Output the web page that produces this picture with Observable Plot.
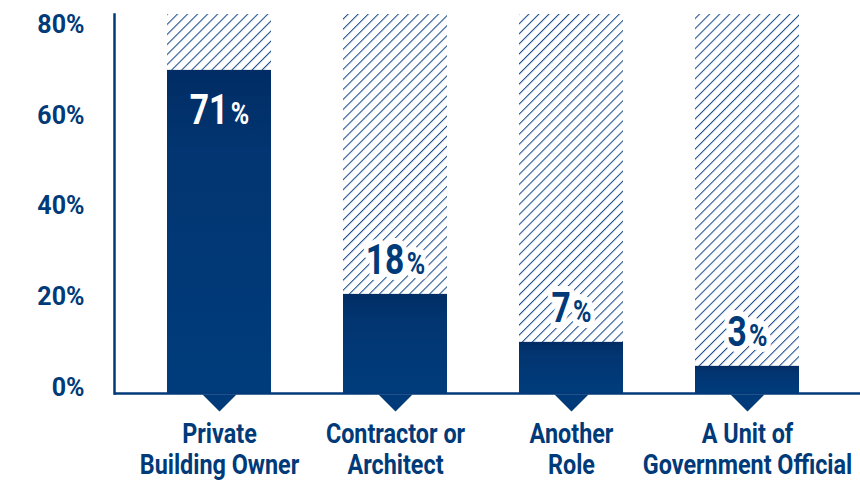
<!DOCTYPE html>
<html><head><meta charset="utf-8">
<script src="https://cdn.jsdelivr.net/npm/d3@7"></script>
<script src="https://cdn.jsdelivr.net/npm/@observablehq/plot@0.6"></script>
<style>body{margin:0;background:#fff;} #chart svg{display:block;}</style>
</head><body><div id="chart"></div>
<script>
// ---- data ----
const categories = ["Private Building Owner", "Contractor or Architect", "Another Role", "A Unit of Government Official"];
const categoryLines = ["Private\nBuilding Owner", "Contractor or\nArchitect", "Another\nRole", "A Unit of\nGovernment Official"];
const shareLabels = ["71%", "18%", "7%", "3%"];
const barHeights = [71.4, 21.9, 11.3, 6.0];   // drawn bar heights
const yTicks = [0, 20, 40, 60, 80];
const yMax = 83.75;

const navy = "#003a78";
const FONT = "Roboto, 'DejaVu Sans Condensed', sans-serif";

const rows = categories.map((c, i) => ({
  category: c, lines: categoryLines[i], label: shareLabels[i], value: barHeights[i], full: yMax
}));

const downTriangle = {
  draw(context) {
    context.moveTo(-17, 0);
    context.lineTo(17, 0);
    context.lineTo(0, 17);
    context.closePath();
  }
};

function defs() {
  const ns = "http://www.w3.org/2000/svg";
  const d = document.createElementNS(ns, "defs");
  d.innerHTML = `
    <pattern id="hatch" patternUnits="userSpaceOnUse" width="7.1" height="7.1" patternTransform="rotate(45)">
      <rect width="7.1" height="7.1" fill="#fff"/>
      <line x1="0" y1="0" x2="0" y2="7.1" stroke="#1a4c8a" stroke-width="2.1"/>
    </pattern>
    <linearGradient id="barGrad" x1="0" y1="0" x2="0" y2="1">
      <stop offset="0" stop-color="#012c64"/>
      <stop offset="0.25" stop-color="#023571"/>
      <stop offset="1" stop-color="#003c7c"/>
    </linearGradient>`;
  return d;
}

const svg = Plot.plot({
  width: 860,
  height: 480,
  marginLeft: 114,
  marginRight: 0,
  marginTop: 14,
  marginBottom: 87,
  style: {fontFamily: FONT, fontWeight: "bold", background: "#fff"},
  x: {domain: categories, paddingInner: 0.41, paddingOuter: 0.32, align: 0.46, axis: null},
  y: {domain: [0, yMax], axis: null},
  marks: [
    defs,
    Plot.barY(rows, {x: "category", y: "full", fill: "url(#hatch)"}),
    Plot.barY(rows, {x: "category", y: "value", fill: "url(#barGrad)"}),
    Plot.frame({anchor: "left", stroke: navy, strokeWidth: 2.5}),
    Plot.ruleY([0], {stroke: navy, strokeWidth: 2.5}),
    Plot.dot(rows, {x: "category", y: () => 0, symbol: downTriangle, fill: navy, stroke: null, dy: 1}),
    Plot.axisY(yTicks, {tickSize: 0, tickPadding: 30, tickFormat: d => d + "%", fontSize: 25, fill: navy, dy: -6, fontWeight: "bold"}),
    Plot.text(rows, {x: "category", y: () => 0, text: "lines", lineAnchor: "top", dy: 28, fontSize: 28, lineHeight: 1.09, fill: navy, fontWeight: "bold", className: "cat"}),
    Plot.text(rows.filter(d => d.value > 50), {x: "category", y: "value", text: "label", dy: 40, fontSize: 43, fill: "#fff", fontWeight: "bold", className: "pct"}),
    Plot.text(rows.filter(d => d.value <= 50), {x: "category", y: "value", text: "label", dy: -34, fontSize: 43, fill: navy, stroke: "#fff", strokeWidth: 12, fontWeight: "bold", className: "pct"})
  ]
});

// make the "%" sign smaller, as in the reference
d3.select(svg).selectAll(".pct text").each(function() {
  const t = this.textContent;
  const num = t.replace("%", "");
  this.textContent = "";
  const s = d3.select(this);
  s.append("tspan").text(num);
  s.append("tspan").attr("font-size", 32).attr("dx", 3).text("%");
});

// condense the type horizontally (the reference uses a condensed face)
function condense(sel, k) {
  d3.select(svg).selectAll(sel).each(function() {
    const tr = this.getAttribute("transform") || "";
    this.setAttribute("transform", tr + ` scale(${k},1)`);
  });
}
condense(".pct text", 0.78);
condense(".cat text", 0.835);

document.getElementById("chart").appendChild(svg);
</script>
</body></html>
